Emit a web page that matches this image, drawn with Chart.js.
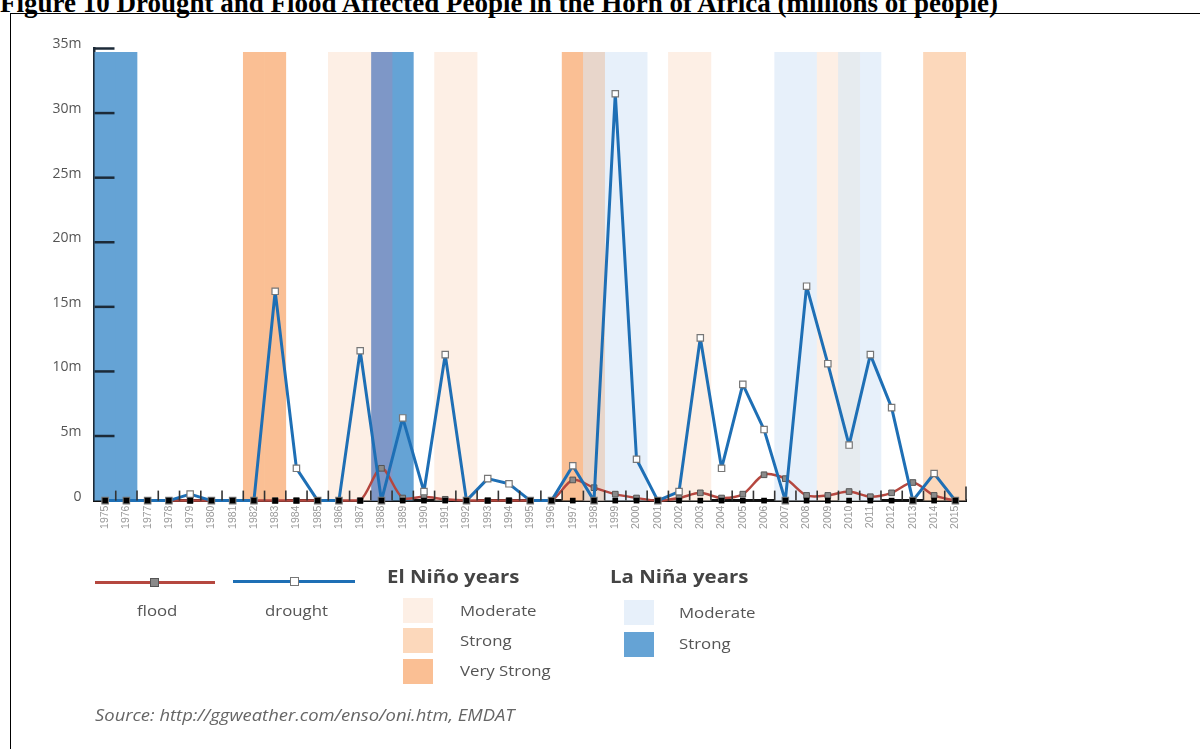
<!DOCTYPE html>
<html>
<head>
<meta charset="utf-8">
<script src="https://cdn.jsdelivr.net/npm/chart.js@4"></script>
<style>
  body { margin: 0; background: #fff; width: 1200px; height: 749px; overflow: hidden; position: relative; font-family: "Open Sans", sans-serif; }
  #title { position: absolute; left: 0; top: -10px; font: bold 27px/27px "Liberation Serif", serif; color: #000; white-space: nowrap; }
  #frameTop { position: absolute; left: 10px; top: 13px; width: 1190px; height: 0; border-top: 1.5px solid #000; }
  #frameLeft { position: absolute; left: 10px; top: 13px; width: 0; height: 740px; border-left: 1.5px solid #000; }
  #c { position: absolute; left: 0; top: 0; }
  .abs { position: absolute; white-space: nowrap; transform-origin: left top; }
  .txt { font-size: 15px; color: #555; transform: scaleX(1.12); }
  .head { font-size: 17px; font-weight: bold; color: #444; transform: scaleX(1.2); }
  .sw { position: absolute; width: 30px; height: 25px; }
</style>
</head>
<body>
<div id="title">Figure 10 Drought and Flood Affected People in the Horn of Africa (millions of people)</div>
<div id="frameTop"></div>
<div id="frameLeft"></div>
<canvas id="c" width="1200" height="749"></canvas>

<!-- legend -->
<div class="abs" style="left:95px;top:581px;width:120px;height:3px;background:#b5473f"></div>
<div class="abs" style="left:150px;top:578px;width:7px;height:7px;background:#8a8a8a;border:1px solid #555"></div>
<div class="abs" style="left:233px;top:580px;width:122px;height:3px;background:#1e6fb5"></div>
<div class="abs" style="left:290px;top:577px;width:7px;height:7px;background:#fff;border:1px solid #777"></div>
<div class="abs txt" style="left:137px;top:600px">flood</div>
<div class="abs txt" style="left:265px;top:600px">drought</div>

<div class="abs head" style="left:387px;top:565px">El Niño years</div>
<div class="sw" style="left:403px;top:598px;background:#fdefe5"></div>
<div class="sw" style="left:403px;top:628px;background:#fcd8bb"></div>
<div class="sw" style="left:403px;top:659px;background:#fabf94"></div>
<div class="abs txt" style="left:460px;top:600px">Moderate</div>
<div class="abs txt" style="left:460px;top:630px">Strong</div>
<div class="abs txt" style="left:460px;top:660px">Very Strong</div>

<div class="abs head" style="left:610px;top:565px">La Niña years</div>
<div class="sw" style="left:624px;top:600px;background:#e7f0fa"></div>
<div class="sw" style="left:624px;top:632px;background:#65a3d5"></div>
<div class="abs txt" style="left:679px;top:602px">Moderate</div>
<div class="abs txt" style="left:679px;top:633px">Strong</div>

<div class="abs" style="left:95px;top:704px;font-size:16px;font-style:italic;color:#666;transform:scaleX(1.15)">Source: http://ggweather.com/enso/oni.htm, EMDAT</div>

<script>
var years = [];
for (var y = 1975; y <= 2015; y++) years.push(String(y));

// millions of people affected
var drought = [0, 0, 0, 0, 0.5, 0, 0, 0, 16.2, 2.5, 0, 0, 11.6, 0, 6.4, 0.7, 11.3, 0, 1.7, 1.3,
  0, 0, 2.7, 0, 31.5, 3.2, 0, 0.7, 12.6, 2.5, 9.0, 5.5, 0, 16.6, 10.6, 4.3, 11.3, 7.2, 0, 2.1, 0];
var flood = [0, 0, 0, 0, 0, 0, 0, 0, 0, 0, 0, 0, 0, 2.5, 0.2, 0.3, 0.1, 0, 0, 0,
  0, 0, 1.6, 1.0, 0.5, 0.2, 0, 0.2, 0.6, 0.2, 0.5, 2.0, 1.7, 0.4, 0.4, 0.7, 0.3, 0.6, 1.4, 0.4, 0];

var elNinoModerate = ["1986", "1987", "1991", "1992", "2002", "2003", "2009", "2010"];
var elNinoStrong = ["1988", "2014", "2015"];
var elNinoVeryStrong = ["1982", "1983", "1997", "1998"];
var laNinaModerate = ["1998", "1999", "2000", "2007", "2008", "2010", "2011"];
var laNinaStrong = ["1975", "1976", "1988", "1989"];

var BAND_TOP = 34.7;

var colors = {
  elMod: "#fdefe5", elStrong: "#fcd8bb", elVery: "#fabf94",
  laMod: "#e7f0fa", laStrong: "#65a3d5"
};
// colours where an El Niño and a La Niña year overlap
var overlap = { "1988": "#7e97c7", "1998": "#e8d6cb", "2010": "#e6ebef" };

function band(list) {
  return years.map(function (yr) { return list.indexOf(yr) >= 0 ? BAND_TOP : null; });
}
function bandDataset(label, list, color) {
  return {
    type: "bar", label: label, data: band(list), order: 10, grouped: false,
    barPercentage: 1, categoryPercentage: 1, borderWidth: 0,
    backgroundColor: function (c) { return overlap[years[c.dataIndex]] || color; }
  };
}

var innerTicks = {
  id: "innerTicks",
  afterDatasetsDraw: function (chart) {
    var ctx = chart.ctx, xs = chart.scales.x, ys = chart.scales.y, a = chart.chartArea;
    ctx.save();
    ctx.strokeStyle = "#1c2a38";
    ctx.lineWidth = 2.5;
    ys.ticks.forEach(function (t) {
      if (t.value === 0) return;
      var py = ys.getPixelForValue(t.value);
      ctx.beginPath(); ctx.moveTo(a.left, py); ctx.lineTo(a.left + 20, py); ctx.stroke();
    });
    ctx.strokeStyle = "#333";
    ctx.lineWidth = 1.6;
    var half = (xs.getPixelForValue(1) - xs.getPixelForValue(0)) / 2;
    for (var i = 0; i < years.length; i++) {
      var px = xs.getPixelForValue(i) + half;
      var h = i === years.length - 1 ? 14 : 10;
      ctx.beginPath(); ctx.moveTo(px, a.bottom); ctx.lineTo(px, a.bottom - h); ctx.stroke();
    }
    ctx.restore();
  }
};

new Chart(document.getElementById("c"), {
  type: "line",
  data: {
    labels: years,
    datasets: [
      bandDataset("El Niño moderate", elNinoModerate, colors.elMod),
      bandDataset("El Niño strong", elNinoStrong, colors.elStrong),
      bandDataset("El Niño very strong", elNinoVeryStrong, colors.elVery),
      bandDataset("La Niña moderate", laNinaModerate, colors.laMod),
      bandDataset("La Niña strong", laNinaStrong, colors.laStrong),
      {
        label: "flood", data: flood, order: 2, clip: false,
        borderColor: "#b5473f", borderWidth: 2.5, tension: 0.3, borderJoinStyle: "round",
        pointStyle: "rect", pointRadius: 4, pointBackgroundColor: "#8a8a8a",
        pointBorderColor: "#555", pointBorderWidth: 1
      },
      {
        label: "drought", data: drought, order: 1, clip: false,
        borderColor: "#1e6fb5", borderWidth: 3, tension: 0, borderJoinStyle: "round",
        pointStyle: "rect", pointRadius: 4.5, pointBackgroundColor: "#fff",
        pointBorderColor: "#777", pointBorderWidth: 1.2
      },
      {
        label: "zero", data: years.map(function () { return 0; }), order: 0, clip: false,
        showLine: false, pointStyle: "rect", pointRadius: 4,
        pointBackgroundColor: "#000", pointBorderColor: "#000", pointBorderWidth: 0
      }
    ]
  },
  options: {
    responsive: false,
    animation: false,
    events: [],
    layout: { padding: { left: 0, top: 48.5, right: 234, bottom: 0 } },
    plugins: { legend: { display: false }, tooltip: { enabled: false } },
    scales: {
      x: {
        offset: true,
        afterFit: function (s) { s.height = 248.4; },
        grid: { display: false, drawTicks: false },
        border: { display: true, color: "#111", width: 3 },
        ticks: {
          autoSkip: false, minRotation: 90, maxRotation: 90, padding: 5,
          color: "#999", font: { family: "Liberation Sans", size: 10.5 }
        }
      },
      y: {
        min: 0, max: 35,
        afterFit: function (s) { s.width = 94.5; },
        grid: { display: false, drawTicks: false },
        border: { display: true, color: "#1c2a38", width: 2.5 },
        ticks: {
          stepSize: 5, padding: 13, labelOffset: -4,
          color: "#555", font: { family: "Open Sans", size: 14 },
          callback: function (v) { return v === 0 ? "0" : v + "m"; }
        }
      }
    }
  },
  plugins: [innerTicks]
});
</script>
</body>
</html>
